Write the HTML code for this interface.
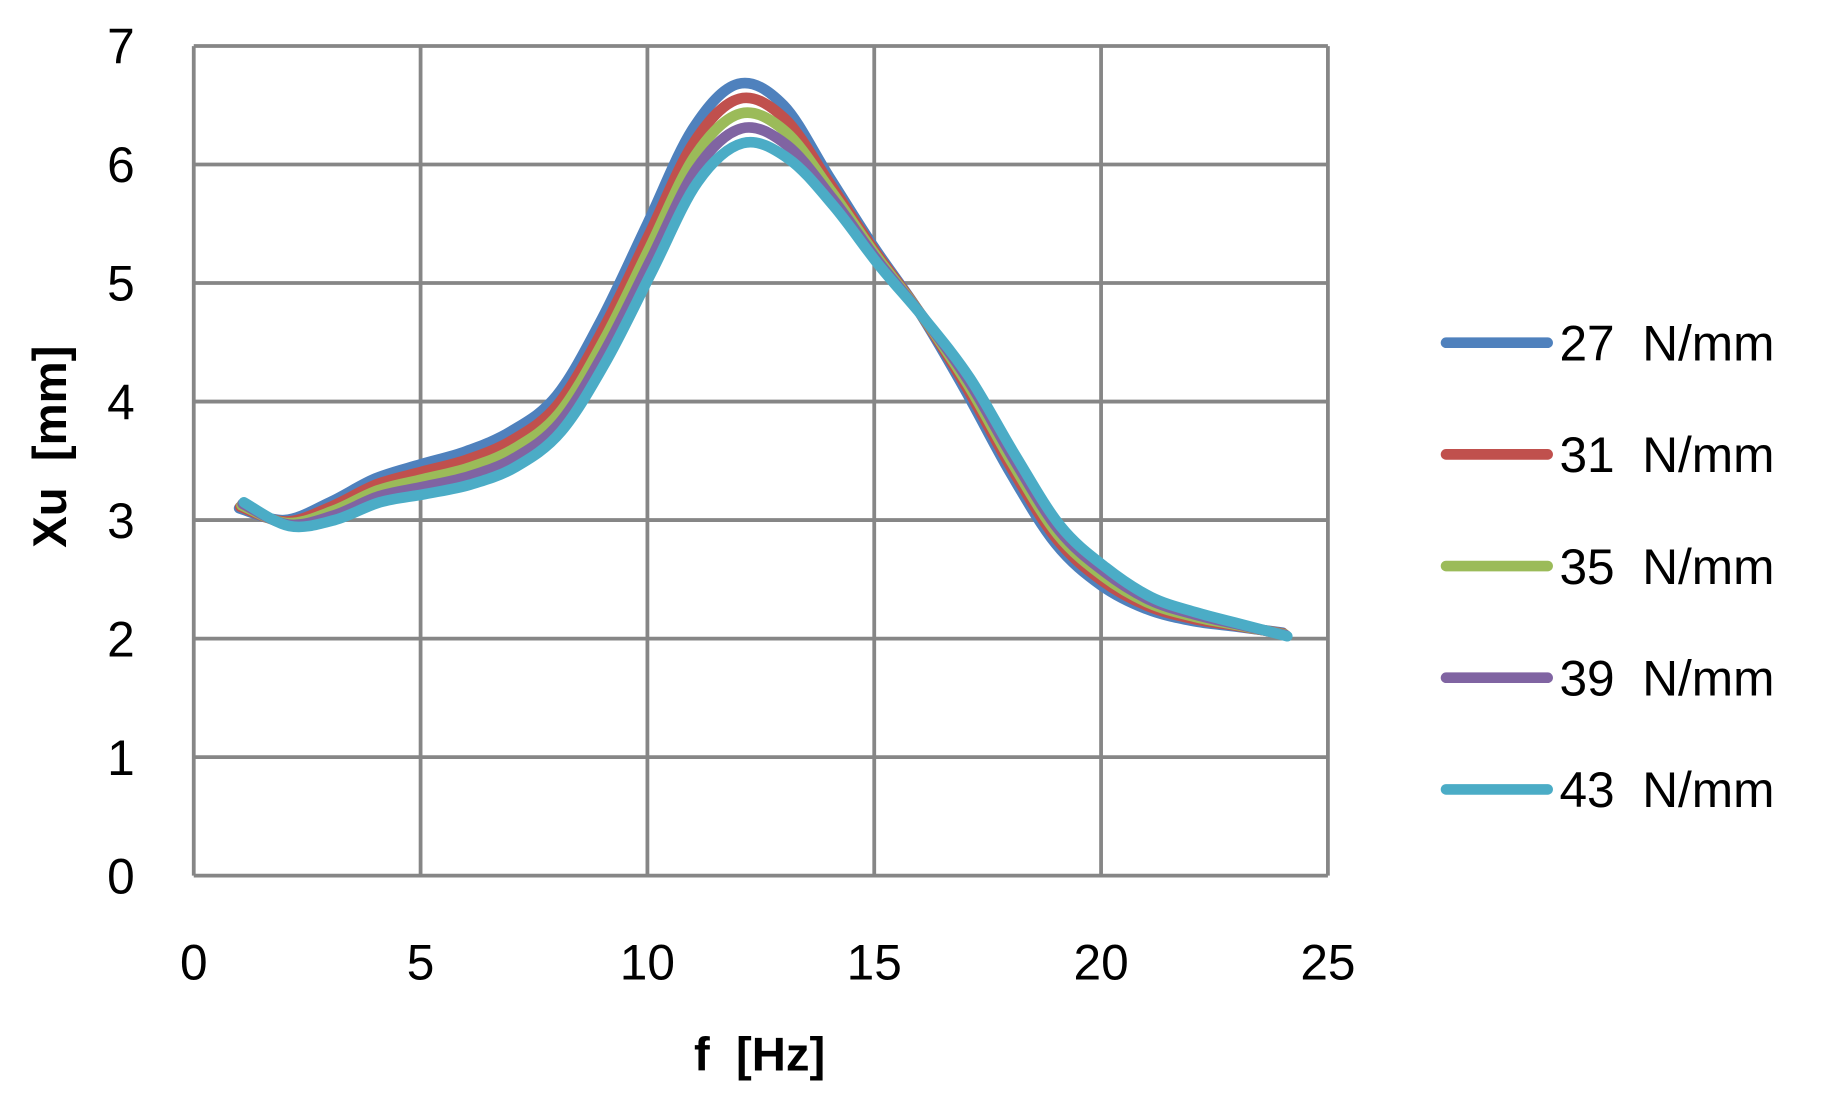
<!DOCTYPE html>
<html><head><meta charset="utf-8"><style>
html,body{margin:0;padding:0;background:#fff;}
svg{display:block;}
text{font-family:"Liberation Sans",sans-serif;fill:#000;white-space:pre;}
</style></head><body>
<svg id="s" width="1843" height="1099" viewBox="0 0 1560 930" preserveAspectRatio="none" xmlns="http://www.w3.org/2000/svg">
<g stroke="#868686" stroke-width="3.2" fill="none" id="grid"></g>
<g id="labels" font-size="42"></g>
<text x="643" y="906" font-size="40" font-weight="bold" text-anchor="middle">f  [Hz]</text>
<text transform="translate(56,378) rotate(-90)" font-size="40" font-weight="bold" text-anchor="middle">Xu  [mm]</text>
<g id="series" fill="none" stroke-linecap="round" stroke-linejoin="round"></g>
<g id="legend" font-size="42"></g>
</svg>
<script>
const NS="http://www.w3.org/2000/svg";
const X=f=>164+38.4*f, Y=v=>741-100.3*v;
function el(p,t,a,txt){const e=document.createElementNS(NS,t);for(const k in a)e.setAttribute(k,a[k]);if(txt!=null)e.textContent=txt;p.appendChild(e);return e;}
const g=document.getElementById('grid'),L=document.getElementById('labels');
for(let v=0;v<=7;v++){el(g,'line',{x1:164,x2:1124,y1:Y(v),y2:Y(v)});el(L,'text',{x:114,y:Y(v)+15,'text-anchor':'end'},v);}
for(let f=0;f<=25;f+=5){el(g,'line',{x1:X(f),x2:X(f),y1:39,y2:741});el(L,'text',{x:X(f),y:829,'text-anchor':'middle'},f);}
const A=[3.1,3.0,3.15,3.35,3.47,3.58,3.75,4.05,4.7,5.5,6.3,6.68,6.5,5.9,5.3,4.75,4.1,3.4,2.8,2.45,2.25,2.15,2.1,2.05];
const B=[3.15,2.95,3.0,3.15,3.22,3.3,3.45,3.75,4.35,5.1,5.85,6.18,6.05,5.65,5.15,4.7,4.2,3.55,2.95,2.6,2.35,2.22,2.12,2.02];
const cols=['#4f81bd','#c0504d','#9bbb59','#8064a2','#4bacc6'];
const names=['27','31','35','39','43'];
const S=document.getElementById('series'),G=document.getElementById('legend');
cols.forEach((c,i)=>{const t=i/4;const pts=A.map((a,k)=>[X(k+1)+t*4,Y(a+(B[k]-a)*t)]);
let d='M'+pts[0].join(',');
for(let k=0;k<pts.length-1;k++){const p0=pts[k-1]||pts[k],p1=pts[k],p2=pts[k+1],p3=pts[k+2]||p2;
d+=`C${p1[0]+(p2[0]-p0[0])/6},${p1[1]+(p2[1]-p0[1])/6} ${p2[0]-(p3[0]-p1[0])/6},${p2[1]-(p3[1]-p1[1])/6} ${p2[0]},${p2[1]}`;}
el(S,'path',{d:d,stroke:c,'stroke-width':9});
const y=290+i*94.5;
el(G,'line',{x1:1224,x2:1310,y1:y,y2:y,stroke:c,'stroke-width':9,'stroke-linecap':'round'});
el(G,'text',{x:1320,y:y+15},names[i]+'  N/mm');
});
</script>
</body></html>
